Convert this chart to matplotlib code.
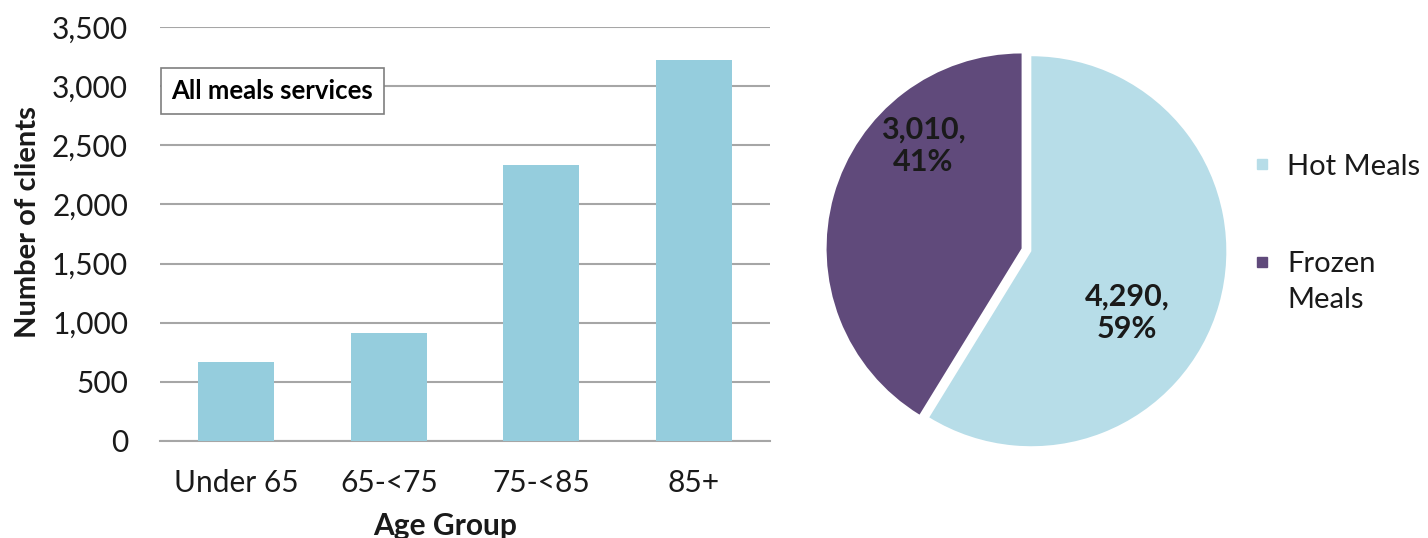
import matplotlib
matplotlib.use("Agg")
import matplotlib.pyplot as plt
from matplotlib.lines import Line2D
from matplotlib.ticker import FuncFormatter

plt.rcParams['font.family'] = ['Lato', 'DejaVu Sans']

# Data
age_groups = ["Under 65", "65-<75", "75-<85", "85+"]
clients = [670, 910, 2330, 3220]
meal_types = ["Hot Meals", "Frozen\nMeals"]
meal_counts = [4290, 3010]

W, H = 1428, 538
fig = plt.figure(figsize=(W / 100, H / 100), dpi=100)

def fx(px):
    return px / W

def fy(py):
    return 1 - py / H

bar_color = "#95cddd"
grid_color = "#a6a6a6"
text_color = "#1a1a1a"
fs = 21.5

# ---- Bar chart ----
ax = fig.add_axes([fx(160), fy(441), fx(770) - fx(160), fy(27) - fy(441)])
x = range(len(age_groups))
ax.bar(x, clients, width=0.5, color=bar_color, zorder=3)
ax.set_xlim(-0.5, len(age_groups) - 0.5)
ax.set_ylim(0, 3500)
ax.set_yticks(range(0, 3501, 500))
ax.yaxis.set_major_formatter(FuncFormatter(lambda v, p: f"{int(v):,}"))
ax.set_xticks(list(x))
ax.set_xticklabels(age_groups)
ax.grid(axis="y", color=grid_color, linewidth=1.5, zorder=0)
for s in ["top", "right", "left"]:
    ax.spines[s].set_visible(False)
ax.spines["bottom"].set_color(grid_color)
ax.spines["bottom"].set_linewidth(1.5)
ax.tick_params(axis="both", length=0, labelsize=fs, colors=text_color)
ax.tick_params(axis="y", pad=23)
ax.tick_params(axis="x", pad=20)

fig.text(fx(28), fy(222), "Number of clients", rotation=90, fontsize=21,
         fontweight="bold", color=text_color, ha="center", va="center")
fig.text(fx(445), fy(526), "Age Group", fontsize=21.5, fontweight="bold",
         color=text_color, ha="center", va="center")

ax.text(0.019, 0.846, "All meals services", transform=ax.transAxes,
        fontsize=18.5, fontweight="bold", color="black", ha="left", va="center",
        zorder=5,
        bbox=dict(boxstyle="square,pad=0.42", facecolor="white",
                  edgecolor="#7f7f7f", linewidth=1.2))

# ---- Pie chart ----
pw = 450
pcx, pcy = 1027, 250
pax = fig.add_axes([fx(pcx - pw / 2), fy(pcy + pw / 2), pw / W, pw / H])
r = 195 / (pw / 2)
pie_colors = ["#b7dde8", "#604a7b"]
total = sum(meal_counts)
wedges, texts, autotexts = pax.pie(
    meal_counts, colors=pie_colors, startangle=90, counterclock=False,
    radius=r, explode=[0.02, 0.025],
    autopct=lambda p: f"{p * total / 100:,.0f},\n{p:.0f}%",
    textprops=dict(fontsize=22, fontweight="bold", color=text_color),
    wedgeprops=dict(linewidth=0))
pax.set_xlim(-1, 1)
pax.set_ylim(-1, 1)
pax.set_aspect("equal")
pax.axis("off")
s = pw / 2
autotexts[0].set_position(((1127 - pcx) / s, (pcy - 313) / s))
autotexts[1].set_position(((923 - pcx) / s, (pcy - 146) / s))
for t in autotexts:
    t.set_linespacing(1.2)

handles = [Line2D([], [], marker="s", linestyle="none", markersize=7.5,
                  color=c) for c in pie_colors]
leg = fig.legend(handles, meal_types, loc="upper left",
                 bbox_to_anchor=(fx(1253), fy(154)), frameon=False,
                 fontsize=21, labelspacing=2.45, handletextpad=0.58,
                 handlelength=0.6, borderpad=0, borderaxespad=0,
                 labelcolor=text_color)
for t in leg.get_texts():
    t.set_linespacing(1.47)
try:
    for col in leg._legend_handle_box.get_children():
        for hp in col.get_children():
            hp.align = "top"
except Exception:
    pass

fig.savefig("out.png", dpi=100)
